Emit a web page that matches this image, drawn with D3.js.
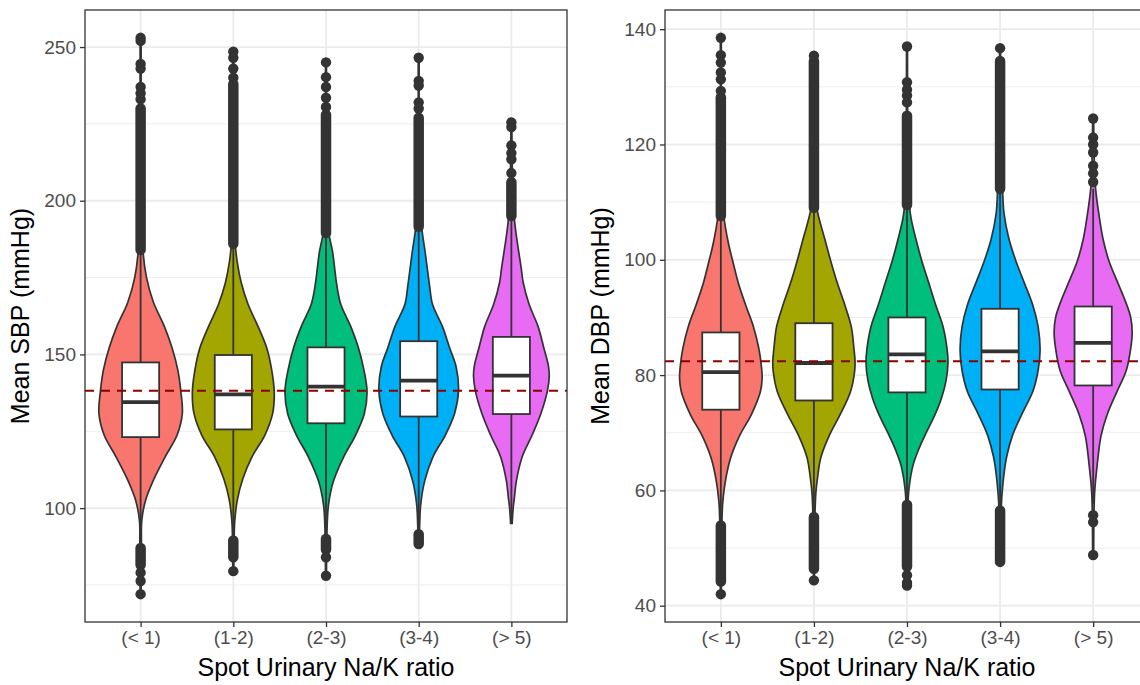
<!DOCTYPE html>
<html>
<head>
<meta charset="utf-8">
<script src="https://cdn.jsdelivr.net/npm/d3@7"></script>
<style>
  body { margin: 0; background: #fff; }
  text { font-family: "Liberation Sans", Arial, Helvetica, sans-serif; }
</style>
</head>
<body>
<svg id="chart" width="1140" height="685"></svg>
<script>
// ---- data ----
const categories = ["(< 1)", "(1-2)", "(2-3)", "(3-4)", "(> 5)"];
const fillColors = ["#F8766D", "#A3A500", "#00BF7D", "#00B0F6", "#E76BF3"];
const xTitle = "Spot Urinary Na/K ratio";

// SBP panel
const sbpTicks = [100, 150, 200, 250];
const sbpMinorTicks = [75, 125, 175, 225];
const sbpMean = 138.2;
// [q1, median, q3, whisker low, whisker high]
const sbpBoxes = [
  [123.1, 134.5, 147.4, 88, 183.5],
  [125.6, 137.0, 149.8, 89.5, 186],
  [127.6, 139.5, 152.3, 90.5, 189.5],
  [129.8, 141.5, 154.3, 93, 191.5],
  [130.6, 143.1, 155.7, 95, 194.5]
];
// violin outline: [value, relative density]
const sbpViolins = [
  [[72,0.5],[88,0.8],[96,1.2],[102.5,5],[109.5,13.6],[116.7,25],[123.7,37],[130.8,42.4],[137.9,40.9],[145,37.8],[152.1,32],[159.2,24],[167,13],[175,6],[183.3,2.5],[200,1],[253,0.5]],
  [[79.5,0.5],[92.5,1],[96,1.5],[102.5,4],[109.5,9.6],[116.7,19],[123.7,32],[130.8,40],[137.9,41.6],[145,39],[152.1,34],[159.2,25],[166.3,15],[173.4,8],[180,4],[186,2],[200,1],[248.5,0.5]],
  [[78,0.5],[92.5,1],[101,2.5],[108.7,7.5],[116.7,18],[123.7,30],[130.8,39],[138,41.7],[145,38.5],[152.1,33],[159.2,25],[166.3,15],[172.5,11],[183.3,6.7],[189.3,3],[200,1],[245,0.5]],
  [[88,0.5],[94.6,1],[101,2],[108.7,6],[116.7,14.5],[123.7,27],[130.8,36.5],[138.5,40.5],[146,38],[152.1,31.5],[159.2,24],[166.3,14],[172.5,11],[183.4,6.5],[191.5,3],[205,1],[246.5,0.5]],
  [[95,0.8],[100,1.8],[103.2,3],[108.7,5],[116.7,11],[123.7,21],[130.8,30],[138,36.5],[143,38.5],[146.5,37.5],[152.1,33],[159.2,27],[166.3,18],[173.4,12],[178,10],[188.7,5],[194.2,3],[205,1.2],[225.5,0.5]]
];
// single outlying points
const sbpOutliers = [
  [253, 252, 244.5, 243, 237, 235, 233, 79, 76.3, 72],
  [248.5, 246.5, 243, 240, 79.5],
  [245, 240.2, 237, 233.5, 230.5, 84, 78],
  [246.5, 239, 237.5, 232, 230],
  [225.5, 224, 218, 215.5, 213.5, 209]
];
// stretches of overlapping outlying points: [from, to]
const sbpOutlierRuns = [
  [[184, 230], [81.5, 87]],
  [[186, 238], [84, 89.5]],
  [[189.5, 228], [86.5, 90]],
  [[191.5, 227], [88.3, 91.5]],
  [[195, 206]]
];

// DBP panel
const dbpTicks = [40, 60, 80, 100, 120, 140];
const dbpMinorTicks = [50, 70, 90, 110, 130];
const dbpMean = 82.4;
const dbpBoxes = [
  [74.0, 80.5, 87.4, 53.9, 107.6],
  [75.6, 82.1, 89.0, 55.5, 109],
  [77.0, 83.6, 90.0, 57.5, 109.5],
  [77.5, 84.1, 91.5, 56.5, 112.3],
  [78.2, 85.6, 91.9, 57.7, 112.3]
];
const dbpViolins = [
  [[42,0.5],[53.9,1],[58.1,2],[62,5],[65.7,10],[69.5,19],[73.2,31],[77.1,40],[79.5,41.8],[81.6,41],[84.6,38.5],[88.4,33],[92.2,25],[95.8,18],[99.8,12],[103,7.5],[107.6,3],[115,1],[138.5,0.5]],
  [[44.4,0.5],[55.5,1],[59.7,2],[62,3.5],[65.7,7],[69.5,15.5],[73.3,27],[77.1,37],[80.8,41.3],[82.5,41.6],[84.6,40.5],[88.4,37.8],[92.2,31.2],[96,23.6],[99.8,17],[103.6,11],[108.9,3],[115,1],[135.4,0.5]],
  [[43.5,0.5],[57.5,1],[60.3,2],[64.3,6],[67.2,12],[70.1,19.7],[73,28],[75.9,34.7],[79,39.5],[82.2,41.5],[84.6,40.5],[88.4,36.5],[92.2,29],[96,22],[99.8,15],[103.6,9],[107.3,4],[109.5,2.5],[118,1],[137,0.5]],
  [[48,0.5],[56.5,1],[61.4,3],[65.7,6.5],[69.5,12.5],[73.2,22],[77.1,33],[80.8,38.5],[84.3,40.5],[88.4,38.5],[92.2,33],[96,24.5],[99.8,16],[103.6,9],[108,4],[112.3,2.5],[120,1],[136.7,0.5]],
  [[48.8,0.5],[55.5,0.8],[59.7,1.5],[64.3,4],[69.5,8],[73.3,14.5],[77.1,24],[80.8,33.5],[84.6,38],[87.4,39.5],[90,38],[92.2,34],[96,25],[99.8,16],[103.6,10],[107.1,6.5],[112.3,2.5],[118,1],[124.6,0.5]]
];
const dbpOutliers = [
  [138.5, 135.5, 134.2, 132.5, 131.3, 129.3, 42],
  [135.4, 44.4],
  [137, 130.8, 129.5, 128.5, 127.3, 45.3, 44, 43.5],
  [136.7],
  [124.5, 121.2, 120, 118.6, 116.3, 115, 113.5, 55.7, 54.5, 48.8]
];
const dbpOutlierRuns = [
  [[107.6, 128.2], [44.2, 53.9]],
  [[109, 134.5], [46.4, 55.4]],
  [[109.5, 125], [46.8, 57.5]],
  [[112.3, 134.5], [47.6, 56.5]],
  []
];

// ---- drawing ----
const svg = d3.select("#chart");
const panelTop = 10, panelBottom = 622;
const ink = "#333333";
const grid = "#ebebeb";

const densMax = d3.max([...sbpViolins, ...dbpViolins].flat(), d => d[1]);

function drawPanel(cfg) {
  const g = svg.append("g");
  const x = d3.scalePoint().domain(categories).range([cfg.left, cfg.right]).padding(0.6);
  const step = x.step();

  // ggplot-like 5% expansion of the data range
  const allVals = cfg.violins.flat().map(d => d[0]);
  const lo = d3.min(allVals), hi = d3.max(allVals);
  const pad = (hi - lo) * 0.05;
  const y = d3.scaleLinear().domain([lo - pad, hi + pad]).range([panelBottom, panelTop]);
  const w = d3.scaleLinear().domain([0, densMax]).range([0, step * 0.45]);

  const clip = "clip-" + cfg.name;
  svg.append("clipPath").attr("id", clip)
    .append("rect").attr("x", cfg.left).attr("y", panelTop)
    .attr("width", cfg.right - cfg.left).attr("height", panelBottom - panelTop);

  const plot = g.append("g").attr("clip-path", `url(#${clip})`);

  // grid
  plot.selectAll(".minor").data(cfg.minor).enter().append("line")
    .attr("x1", cfg.left).attr("x2", cfg.right)
    .attr("y1", d => y(d)).attr("y2", d => y(d))
    .attr("stroke", grid).attr("stroke-width", 0.9);
  plot.selectAll(".major").data(cfg.ticks).enter().append("line")
    .attr("x1", cfg.left).attr("x2", cfg.right)
    .attr("y1", d => y(d)).attr("y2", d => y(d))
    .attr("stroke", grid).attr("stroke-width", 1.8);
  plot.selectAll(".vgrid").data(categories).enter().append("line")
    .attr("x1", d => x(d)).attr("x2", d => x(d))
    .attr("y1", panelTop).attr("y2", panelBottom)
    .attr("stroke", grid).attr("stroke-width", 1.8);

  const area = d3.area()
    .curve(d3.curveCatmullRom.alpha(0.5));

  categories.forEach((c, i) => {
    const cx = x(c);
    area.y(d => y(d[0])).x0(d => cx - w(d[1])).x1(d => cx + w(d[1]));
    plot.append("path")
      .datum(cfg.violins[i])
      .attr("d", area)
      .attr("fill", fillColors[i])
      .attr("stroke", ink)
      .attr("stroke-width", 1.7);

    const b = cfg.boxes[i];
    const bw = step * 0.4;
    // whiskers
    plot.append("line")
      .attr("x1", cx).attr("x2", cx)
      .attr("y1", y(b[3])).attr("y2", y(b[4]))
      .attr("stroke", ink).attr("stroke-width", 1.8);
    // box
    plot.append("rect")
      .attr("x", cx - bw / 2).attr("width", bw)
      .attr("y", y(b[2])).attr("height", y(b[0]) - y(b[2]))
      .attr("fill", "#fff").attr("stroke", ink).attr("stroke-width", 1.8);
    plot.append("line")
      .attr("x1", cx - bw / 2).attr("x2", cx + bw / 2)
      .attr("y1", y(b[1])).attr("y2", y(b[1]))
      .attr("stroke", ink).attr("stroke-width", 3.8);

    // outliers
    plot.selectAll(null).data(cfg.runs[i]).enter().append("line")
      .attr("x1", cx).attr("x2", cx)
      .attr("y1", d => y(d[0])).attr("y2", d => y(d[1]))
      .attr("stroke", ink).attr("stroke-width", 10.5)
      .attr("stroke-linecap", "round");
    plot.selectAll(null).data(cfg.outliers[i]).enter().append("circle")
      .attr("cx", cx).attr("cy", d => y(d)).attr("r", 5.2)
      .attr("fill", ink);
  });

  // reference line (overall mean)
  plot.append("line")
    .attr("x1", cfg.left).attr("x2", cfg.right)
    .attr("y1", y(cfg.mean)).attr("y2", y(cfg.mean))
    .attr("stroke", "#8B0000").attr("stroke-width", 2)
    .attr("stroke-dasharray", "9,7");

  // border
  g.append("rect")
    .attr("x", cfg.left).attr("y", panelTop)
    .attr("width", cfg.right - cfg.left).attr("height", panelBottom - panelTop)
    .attr("fill", "none").attr("stroke", ink).attr("stroke-width", 1.3);

  // axes
  const yAxis = g.append("g")
    .attr("transform", `translate(${cfg.left},0)`)
    .call(d3.axisLeft(y).tickValues(cfg.ticks).tickSize(5).tickPadding(4));
  yAxis.select(".domain").remove();
  yAxis.selectAll("line").attr("stroke", ink).attr("stroke-width", 1.3);
  yAxis.selectAll("text").attr("fill", "#4d4d4d").style("font-size", "19px");

  const xAxis = g.append("g")
    .attr("transform", `translate(0,${panelBottom})`)
    .call(d3.axisBottom(x).tickSize(5).tickPadding(4));
  xAxis.select(".domain").remove();
  xAxis.selectAll("line").attr("stroke", ink).attr("stroke-width", 1.3);
  xAxis.selectAll("text").attr("fill", "#4d4d4d").style("font-size", "19px");

  g.append("text")
    .attr("x", (cfg.left + cfg.right) / 2)
    .attr("y", 676)
    .attr("text-anchor", "middle")
    .style("font-size", "25px")
    .attr("fill", "#000")
    .text(xTitle);

  g.append("text")
    .attr("transform", `translate(${cfg.left - 56},${(panelTop + panelBottom) / 2}) rotate(-90)`)
    .attr("text-anchor", "middle")
    .style("font-size", "25px")
    .attr("fill", "#000")
    .text(cfg.yTitle);
}

drawPanel({
  name: "sbp", left: 85, right: 567, yTitle: "Mean SBP (mmHg)",
  ticks: sbpTicks, minor: sbpMinorTicks, mean: sbpMean,
  boxes: sbpBoxes, violins: sbpViolins, outliers: sbpOutliers, runs: sbpOutlierRuns
});
drawPanel({
  name: "dbp", left: 665, right: 1149, yTitle: "Mean DBP (mmHg)",
  ticks: dbpTicks, minor: dbpMinorTicks, mean: dbpMean,
  boxes: dbpBoxes, violins: dbpViolins, outliers: dbpOutliers, runs: dbpOutlierRuns
});
</script>
</body>
</html>
